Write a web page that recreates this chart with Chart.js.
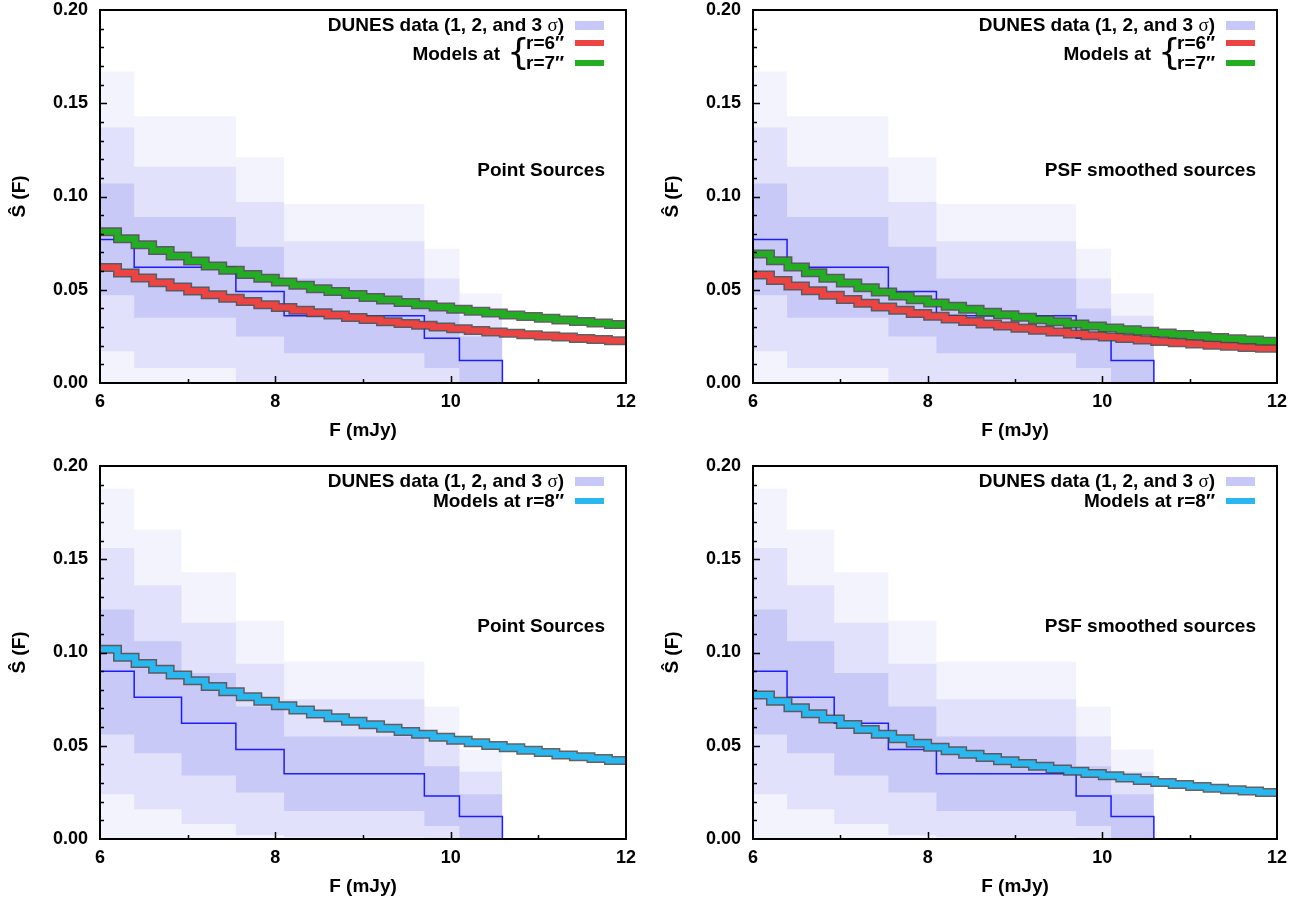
<!DOCTYPE html>
<html>
<head>
<meta charset="utf-8">
<script src="https://cdn.jsdelivr.net/npm/chart.js@4.4.1/dist/chart.umd.min.js"></script>
<style>
  body { margin: 0; background: #fff; width: 1306px; height: 903px; position: relative; overflow: hidden;
         font-family: "Liberation Sans", Arial, sans-serif; font-weight: bold; color: #000; }
  .panel { position: absolute; }
  .panel canvas { position: absolute; left: 0; top: 0; }
  .txt { position: absolute; font-size: 19px; line-height: 22px; white-space: nowrap; }
  .sig { font-family: "Liberation Serif", "DejaVu Serif", serif; font-weight: normal; }
  .brace { position: absolute; font-family: "DejaVu Sans", sans-serif; font-weight: normal; font-size: 36px; line-height: 36px; }
  .sw { position: absolute; width: 29px; }
</style>
</head>
<body>
<div class="panel" id="p0" style="left:0;top:0;width:650px;height:450px"><canvas id="c0" width="650" height="450"></canvas></div>
<div class="panel" id="p1" style="left:650px;top:0;width:656px;height:450px"><canvas id="c1" width="656" height="450"></canvas></div>
<div class="panel" id="p2" style="left:0;top:450px;width:650px;height:453px"><canvas id="c2" width="650" height="453"></canvas></div>
<div class="panel" id="p3" style="left:650px;top:450px;width:656px;height:453px"><canvas id="c3" width="656" height="453"></canvas></div>
<script>
// DUNES data bins (top row: 6 bins, bottom row: 7 bins)
const topEdges = [6.00, 6.39, 7.55, 8.10, 9.70, 10.10, 10.59];
const topData  = [0.077, 0.062, 0.049, 0.036, 0.024, 0.012];
const topHi3   = [0.167, 0.143, 0.121, 0.096, 0.072, 0.048];
const topHi2   = [0.137, 0.116, 0.097, 0.076, 0.056, 0.036];
const topHi1   = [0.107, 0.089, 0.073, 0.056, 0.040, 0.025];
const topLo1   = [0.047, 0.035, 0.025, 0.016, 0.008, 0.000];
const topLo2   = [0.017, 0.008, 0.000, 0.000, 0.000, 0.000];

const botEdges = [6.00, 6.39, 6.93, 7.55, 8.10, 9.70, 10.10, 10.59];
const botData  = [0.090, 0.076, 0.062, 0.048, 0.035, 0.023, 0.012];
const botHi3   = [0.188, 0.166, 0.143, 0.117, 0.095, 0.071, 0.048];
const botHi2   = [0.156, 0.136, 0.116, 0.094, 0.075, 0.055, 0.036];
const botHi1   = [0.123, 0.106, 0.089, 0.071, 0.055, 0.039, 0.024];
const botLo1   = [0.056, 0.046, 0.034, 0.025, 0.015, 0.007, 0.000];
const botLo2   = [0.024, 0.016, 0.008, 0.002, 0.001, 0.000, 0.000];

// model curves (step bins in F)
const modelEdges = [6.0, 6.2, 6.4, 6.6, 6.8, 7.0, 7.2, 7.4, 7.6, 7.8, 8.0, 8.2, 8.4, 8.6, 8.8, 9.0,
  9.2, 9.4, 9.6, 9.8, 10.0, 10.2, 10.4, 10.6, 10.8, 11.0, 11.2, 11.4, 11.6, 11.8, 12.0];
const pointR7 = [0.0811, 0.0774, 0.0741, 0.0710, 0.0681, 0.0654, 0.0628, 0.0605, 0.0582, 0.0562, 0.0542, 0.0524, 0.0506, 0.0490, 0.0474,
  0.0459, 0.0445, 0.0432, 0.0420, 0.0408, 0.0396, 0.0385, 0.0375, 0.0365, 0.0356, 0.0347, 0.0338, 0.0330, 0.0322, 0.0314];
const pointR6 = [0.0619, 0.0590, 0.0563, 0.0538, 0.0515, 0.0493, 0.0473, 0.0454, 0.0437, 0.0420, 0.0405, 0.0390, 0.0377, 0.0364, 0.0351,
  0.0340, 0.0329, 0.0319, 0.0309, 0.0300, 0.0291, 0.0282, 0.0274, 0.0267, 0.0259, 0.0252, 0.0246, 0.0239, 0.0233, 0.0227];
const psfR7 = [0.0692, 0.0656, 0.0622, 0.0591, 0.0562, 0.0536, 0.0511, 0.0488, 0.0467, 0.0447, 0.0429, 0.0411, 0.0395, 0.0380, 0.0366,
  0.0352, 0.0339, 0.0328, 0.0316, 0.0305, 0.0295, 0.0286, 0.0277, 0.0268, 0.0260, 0.0252, 0.0244, 0.0237, 0.0230, 0.0224];
const psfR6 = [0.0579, 0.0549, 0.0520, 0.0494, 0.0470, 0.0448, 0.0427, 0.0408, 0.0390, 0.0373, 0.0358, 0.0343, 0.0330, 0.0317, 0.0305,
  0.0294, 0.0283, 0.0273, 0.0263, 0.0254, 0.0246, 0.0238, 0.0230, 0.0223, 0.0216, 0.0209, 0.0203, 0.0197, 0.0191, 0.0186];
const pointR8 = [0.1018, 0.0975, 0.0941, 0.0910, 0.0880, 0.0848, 0.0818, 0.0790, 0.0763, 0.0738, 0.0714, 0.0692, 0.0670, 0.0650, 0.0631,
  0.0612, 0.0594, 0.0577, 0.0561, 0.0545, 0.0530, 0.0516, 0.0502, 0.0489, 0.0476, 0.0464, 0.0451, 0.0441, 0.0431, 0.0421];
const psfR8 = [0.0772, 0.0738, 0.0704, 0.0672, 0.0644, 0.0614, 0.0587, 0.0561, 0.0537, 0.0514, 0.0492, 0.0473, 0.0454, 0.0437, 0.0420,
  0.0405, 0.0390, 0.0376, 0.0363, 0.0351, 0.0339, 0.0327, 0.0314, 0.0303, 0.0292, 0.0282, 0.0272, 0.0264, 0.0257, 0.0250];

const xTicks = [6, 8, 10, 12];
const yTicks = [0.00, 0.05, 0.10, 0.15, 0.20];

const C_RED = '#ec4343', C_GREEN = '#22ad22', C_BLUE = '#2ab6ee';
const C_S3 = '#f3f3fd', C_S2 = '#e1e1fb', C_S1 = '#c9c9f8';

Chart.defaults.font.family = '"Liberation Sans", Arial, sans-serif';
Chart.defaults.font.weight = 'bold';
Chart.defaults.color = '#000';

function steps(edges, vals) {
  const pts = vals.map((v, i) => ({x: edges[i], y: v}));
  pts.push({x: edges[edges.length - 1], y: vals[vals.length - 1]});
  return pts;
}

function band(edges, vals, color, order) {
  return {data: steps(edges, vals), fill: 'origin', backgroundColor: color, borderWidth: 0,
          pointRadius: 0, stepped: true, order};
}

function modelLines(vals, color, order) {
  const d = steps(modelEdges, vals);
  return [
    {data: d, borderColor: 'rgba(70,70,70,0.85)', borderWidth: 9, pointRadius: 0, stepped: true,
     fill: false, borderJoinStyle: 'miter', borderCapStyle: 'butt', order: order + 1},
    {data: d, borderColor: color, borderWidth: 6, pointRadius: 0, stepped: true,
     fill: false, borderJoinStyle: 'miter', borderCapStyle: 'butt', order: order}
  ];
}

// box + inward ticks like the original plot
const frame = {
  id: 'frame',
  afterDatasetsDraw(chart) {
    const {ctx, chartArea: a, scales: {x, y}} = chart;
    ctx.save();
    ctx.strokeStyle = '#000';
    ctx.lineWidth = 1.5;
    ctx.beginPath();
    for (let i = 1; i < 20; i++) {
      const py = Math.round(y.getPixelForValue(i / 100)) + 0.5;
      const len = i % 5 === 0 ? 7 : 4;
      ctx.moveTo(a.left, py); ctx.lineTo(a.left + len, py);
    }
    for (let f = 7; f < 12; f++) {
      const px = Math.round(x.getPixelForValue(f)) + 0.5;
      const len = f % 2 === 0 ? 7 : 4;
      ctx.moveTo(px, a.bottom); ctx.lineTo(px, a.bottom - len);
    }
    ctx.stroke();
    ctx.lineWidth = 2;
    ctx.strokeRect(a.left, a.top, a.right - a.left, a.bottom - a.top);
    ctx.restore();
  }
};

function makeChart(id, p) {
  const sets = [];
  p.models.forEach((m, i) => sets.push(...modelLines(m.vals, m.color, i * 2)));
  sets.push({data: steps(p.edges, p.data).concat([{x: p.edges[p.edges.length - 1], y: 0}]),
             borderColor: '#1c1cff', borderWidth: 1.5, pointRadius: 0, stepped: true, fill: false, order: 8});
  sets.push(band(p.edges, p.lo2, C_S3, 16));
  sets.push(band(p.edges, p.lo1, C_S2, 17));
  sets.push(band(p.edges, p.hi1, C_S1, 18));
  sets.push(band(p.edges, p.hi2, C_S2, 19));
  sets.push(band(p.edges, p.hi3, C_S3, 20));

  new Chart(document.getElementById(id), {
    type: 'line',
    data: {datasets: sets},
    options: {
      responsive: false, animation: false, devicePixelRatio: 1, events: [],
      layout: {padding: {left: p.padLeft, right: p.padRight, top: p.padTop, bottom: p.padBottom}},
      plugins: {legend: {display: false}, tooltip: {enabled: false}},
      scales: {
        x: {
          type: 'linear', min: 6, max: 12,
          afterBuildTicks: s => { s.ticks = xTicks.map(v => ({value: v})); },
          afterFit: s => { s.height = 59; s.paddingLeft = 0; s.paddingRight = 0; },
          grid: {display: false, drawTicks: false}, border: {display: false},
          ticks: {font: {size: 18, weight: 'bold'}, padding: 8, maxRotation: 0, callback: v => String(v)},
          title: {display: true, text: 'F (mJy)', font: {size: 19, weight: 'bold'}, padding: 0}
        },
        y: {
          type: 'linear', min: 0, max: 0.2,
          afterBuildTicks: s => { s.ticks = yTicks.map(v => ({value: v})); },
          afterFit: s => { s.width = 92; s.paddingTop = 0; s.paddingBottom = 0; },
          grid: {display: false, drawTicks: false}, border: {display: false},
          ticks: {font: {size: 18, weight: 'bold'}, padding: 12, callback: v => Number(v).toFixed(2)},
          title: {display: true, text: 'Ŝ (F)', font: {size: 19, weight: 'bold'}, padding: 0}
        }
      }
    },
    plugins: [frame]
  });
}

function addText(panel, html, css) {
  const d = document.createElement('div');
  d.className = 'txt';
  d.innerHTML = html;
  Object.assign(d.style, css);
  panel.appendChild(d);
  return d;
}

function addSwatch(panel, left, top, h, color) {
  const d = document.createElement('div');
  d.className = 'sw';
  Object.assign(d.style, {left: left + 'px', top: top + 'px', height: h + 'px', background: color});
  panel.appendChild(d);
}

function legend(pid, p) {
  const panel = document.getElementById(pid);
  const W = p.width, R = W - p.padRight, T = p.padTop;
  addText(panel, 'DUNES data (1, 2, and 3 <span class="sig">σ</span>)', {right: (W - R + 62) + 'px', top: (T + 4) + 'px'});
  addSwatch(panel, R - 51, T + 11, 9, '#c8c8f8');
  if (p.models.length === 2) {
    addText(panel, 'Models at', {right: (W - R + 126) + 'px', top: (T + 33) + 'px'});
    const b = document.createElement('div');
    b.className = 'brace'; b.textContent = '{';
    Object.assign(b.style, {left: (R - 119) + 'px', top: (T + 24) + 'px'});
    panel.appendChild(b);
    addText(panel, 'r=6″', {left: (R - 100) + 'px', top: (T + 22) + 'px'});
    addText(panel, 'r=7″', {left: (R - 100) + 'px', top: (T + 42) + 'px'});
    addSwatch(panel, R - 51, T + 30, 6, p.models[0].color);
    addSwatch(panel, R - 51, T + 50, 6, p.models[1].color);
  } else {
    addText(panel, 'Models at r=8″', {right: (W - R + 62) + 'px', top: (T + 24) + 'px'});
    addSwatch(panel, R - 51, T + 32, 6, p.models[0].color);
  }
  addText(panel, p.label, {right: (W - R + 21) + 'px', top: (T + 149) + 'px'});
}

const panels = [
  {id: 'c0', pid: 'p0', width: 650, padLeft: 8, padRight: 24, padTop: 10, padBottom: 8, label: 'Point Sources',
   edges: topEdges, data: topData, hi3: topHi3, hi2: topHi2, hi1: topHi1, lo1: topLo1, lo2: topLo2,
   models: [{vals: pointR6, color: C_RED}, {vals: pointR7, color: C_GREEN}]},
  {id: 'c1', pid: 'p1', width: 656, padLeft: 11, padRight: 29, padTop: 10, padBottom: 8, label: 'PSF smoothed sources',
   edges: topEdges, data: topData, hi3: topHi3, hi2: topHi2, hi1: topHi1, lo1: topLo1, lo2: topLo2,
   models: [{vals: psfR6, color: C_RED}, {vals: psfR7, color: C_GREEN}]},
  {id: 'c2', pid: 'p2', width: 650, padLeft: 8, padRight: 24, padTop: 16, padBottom: 5, label: 'Point Sources',
   edges: botEdges, data: botData, hi3: botHi3, hi2: botHi2, hi1: botHi1, lo1: botLo1, lo2: botLo2,
   models: [{vals: pointR8, color: C_BLUE}]},
  {id: 'c3', pid: 'p3', width: 656, padLeft: 11, padRight: 29, padTop: 16, padBottom: 5, label: 'PSF smoothed sources',
   edges: botEdges, data: botData, hi3: botHi3, hi2: botHi2, hi1: botHi1, lo1: botLo1, lo2: botLo2,
   models: [{vals: psfR8, color: C_BLUE}]}
];

panels.forEach(p => {
  // green (r=7) drawn above red (r=6)
  makeChart(p.id, Object.assign({}, p, {models: p.models.slice().reverse()}));
  legend(p.pid, p);
});
</script>
</body>
</html>
